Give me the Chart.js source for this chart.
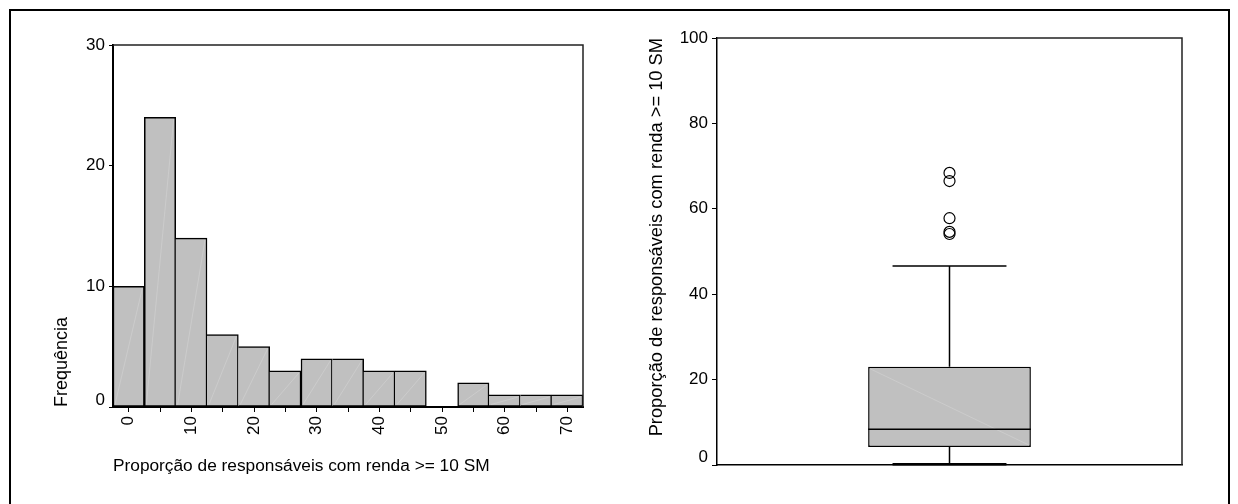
<!DOCTYPE html>
<html><head><meta charset="utf-8">
<script src="https://cdn.jsdelivr.net/npm/chart.js@4.4.1/dist/chart.umd.min.js"></script>
<style>
html,body{margin:0;padding:0;background:#fff;width:1238px;height:504px;overflow:hidden;}
#frame{position:absolute;left:9px;top:9px;width:1217px;height:600px;border:2px solid #000;}
#c1{position:absolute;left:0;top:0;}
#c2{position:absolute;left:620px;top:0;}
</style></head><body>
<div id="frame"></div>
<canvas id="c1" width="620" height="504"></canvas>
<canvas id="c2" width="618" height="504"></canvas>
<script>
// ---- data ----
const binCenters = ['0','5','10','15','20','25','30','35','40','45','50','55','60','65','70'];
const frequencies = [10,24,14,6,5,3,4,4,3,3,0,2,1,1,1];
const histYMax = 30;
const histYStep = 10;
const boxCategory = ['box'];
const boxQ1Q3 = [4.2, 23.0];
const boxMedian = 8.4;
const boxWhiskers = [0.2, 46.6];
const boxOutliers = [68.4, 66.5, 57.8, 54.6, 54.1];
const boxYMax = 100;
const boxYStep = 20;
const varTitle = 'Proporção de responsáveis com renda >= 10 SM';
const freqTitle = 'Frequência';

Chart.defaults.font.family = "'Liberation Sans', Arial, sans-serif";
Chart.defaults.font.size = 17;
Chart.defaults.color = '#000';

const framePlugin = {
  id: 'frameLines',
  afterDatasetsDraw(chart) {
    const {ctx, chartArea: a} = chart;
    ctx.save();
    ctx.strokeStyle = '#222';
    ctx.lineWidth = 1.5;
    ctx.beginPath();
    ctx.moveTo(a.left, a.top);
    ctx.lineTo(a.right, a.top);
    ctx.lineTo(a.right, a.bottom);
    ctx.stroke();
    ctx.restore();
  }
};

function zeroShift(dy) {
  return {
    id: 'zeroShift',
    beforeDraw(chart) {
      const items = chart.scales.y.getLabelItems();
      items.forEach(it => {
        if (it.label === '0' && !it._shifted) {
          it.options.translation[1] -= dy;
          it._shifted = true;
        }
      });
    }
  };
}

// faint diagonal highlight inside filled bars (as in the original rendering)
function diagPlugin(datasetIndex, dir) {
  return {
    id: 'diag' + datasetIndex,
    afterDatasetDraw(chart, args) {
      if (args.index !== datasetIndex) return;
      const {ctx} = chart;
      ctx.save();
      ctx.strokeStyle = 'rgba(220,220,220,0.7)';
      ctx.lineWidth = 0.6;
      args.meta.data.forEach(el => {
        const p = el.getProps(['x', 'y', 'base', 'width'], true);
        const top = Math.min(p.y, p.base), bot = Math.max(p.y, p.base);
        if (bot - top < 3) return;
        const l = p.x - p.width / 2 + 2, r = p.x + p.width / 2 - 2;
        ctx.beginPath();
        if (dir > 0) { ctx.moveTo(l, bot - 2); ctx.lineTo(r, top + 2); }
        else { ctx.moveTo(l, top + 2); ctx.lineTo(r, bot - 2); }
        ctx.stroke();
      });
      ctx.restore();
    }
  };
}

// ---- histogram ----
new Chart(document.getElementById('c1'), {
  type: 'bar',
  data: {
    labels: binCenters,
    datasets: [{
      data: frequencies,
      backgroundColor: '#c0c0c0',
      borderColor: '#000',
      borderWidth: 1.5,
      borderSkipped: (ctx) => (ctx.dataIndex > 0 && frequencies[ctx.dataIndex - 1] >= frequencies[ctx.dataIndex]) ? 'left' : false,
      barPercentage: 1,
      categoryPercentage: 1
    }]
  },
  options: {
    responsive: false,
    animation: false,
    events: [],
    layout: {padding: {top: 45, right: 37, left: 0, bottom: 0}},
    plugins: {legend: {display: false}, tooltip: {enabled: false}},
    scales: {
      x: {
        type: 'category',
        offset: true,
        grid: {display: true, drawOnChartArea: false, offset: false, tickLength: 5, color: '#000', lineWidth: 1},
        border: {display: true, color: '#000', width: 2},
        ticks: {
          autoSkip: false, minRotation: 90, maxRotation: 90, padding: 4, color: '#000',
          callback(v, i) { const l = binCenters[i]; return (+l) % 10 === 0 ? l : ''; }
        },
        title: {display: true, text: varTitle, align: 'start', color: '#000', font: {size: 17.3}, padding: {top: 0, bottom: 27.6}},
        afterFit(s) { s.height = 97; s.paddingLeft = 0; s.paddingRight = 0; }
      },
      y: {
        min: 0, max: histYMax,
        ticks: {stepSize: histYStep, padding: 4, color: '#000'},
        grid: {drawOnChartArea: false, tickLength: 4, color: '#000'},
        border: {display: true, color: '#000', width: 2},
        title: {display: true, text: freqTitle, align: 'start', color: '#000', font: {size: 18}, padding: {top: 51, bottom: 0}},
        afterFit(s) { s.width = 113; s.paddingTop = 0; s.paddingBottom = 0; }
      }
    }
  },
  plugins: [framePlugin, zeroShift(7), diagPlugin(0, 1)]
});

// ---- boxplot ----
const whiskerPlugin = {
  id: 'whiskers',
  afterDatasetsDraw(chart) {
    const {ctx} = chart;
    const y = chart.scales.y;
    const bar = chart.getDatasetMeta(1).data[0];
    const cx = bar.x, hw = bar.width / 2, cap = hw * 0.7;
    ctx.save();
    ctx.strokeStyle = '#000';
    ctx.lineWidth = 1.5;
    ctx.beginPath();
    ctx.moveTo(cx - hw, y.getPixelForValue(boxMedian));
    ctx.lineTo(cx + hw, y.getPixelForValue(boxMedian));
    ctx.moveTo(cx, y.getPixelForValue(boxQ1Q3[1]));
    ctx.lineTo(cx, y.getPixelForValue(boxWhiskers[1]));
    ctx.moveTo(cx - cap, y.getPixelForValue(boxWhiskers[1]));
    ctx.lineTo(cx + cap, y.getPixelForValue(boxWhiskers[1]));
    ctx.moveTo(cx, y.getPixelForValue(boxQ1Q3[0]));
    ctx.lineTo(cx, y.getPixelForValue(boxWhiskers[0]));
    ctx.stroke();
    ctx.lineWidth = 2.5;
    ctx.beginPath();
    ctx.moveTo(cx - cap, y.getPixelForValue(boxWhiskers[0]));
    ctx.lineTo(cx + cap, y.getPixelForValue(boxWhiskers[0]));
    ctx.stroke();
    ctx.restore();
  }
};

new Chart(document.getElementById('c2'), {
  type: 'bar',
  data: {
    labels: boxCategory,
    datasets: [
      {
        type: 'line',
        data: boxOutliers.map(v => ({x: boxCategory[0], y: v})),
        showLine: false,
        pointStyle: 'circle',
        pointRadius: 5.5,
        pointBorderColor: '#000',
        pointBackgroundColor: 'rgba(0,0,0,0)',
        pointBorderWidth: 1.2,
        order: 0
      },
      {
        type: 'bar',
        data: [boxQ1Q3],
        backgroundColor: '#c0c0c0',
        borderColor: '#000',
        borderWidth: 1.5,
        borderSkipped: false,
        barPercentage: 0.35,
        categoryPercentage: 1,
        order: 1
      }
    ]
  },
  options: {
    responsive: false,
    animation: false,
    events: [],
    layout: {padding: {top: 38, right: 56, left: 0, bottom: 0}},
    plugins: {legend: {display: false}, tooltip: {enabled: false}},
    scales: {
      x: {
        type: 'category',
        offset: true,
        grid: {display: false},
        border: {display: true, color: '#000', width: 1.5},
        ticks: {display: false},
        afterFit(s) { s.height = 39; s.paddingLeft = 0; s.paddingRight = 0; }
      },
      y: {
        min: 0, max: boxYMax,
        ticks: {stepSize: boxYStep, padding: 4, color: '#000'},
        grid: {drawOnChartArea: false, tickLength: 5, color: '#000'},
        border: {display: true, color: '#000', width: 1.5},
        title: {display: true, text: varTitle, align: 'end', color: '#000', font: {size: 18.3}, padding: {top: 26, bottom: 0}},
        afterFit(s) { s.width = 97; s.paddingTop = 0; s.paddingBottom = 0; }
      }
    }
  },
  plugins: [framePlugin, diagPlugin(1, -1), whiskerPlugin, zeroShift(8)]
});
</script>
</body></html>
